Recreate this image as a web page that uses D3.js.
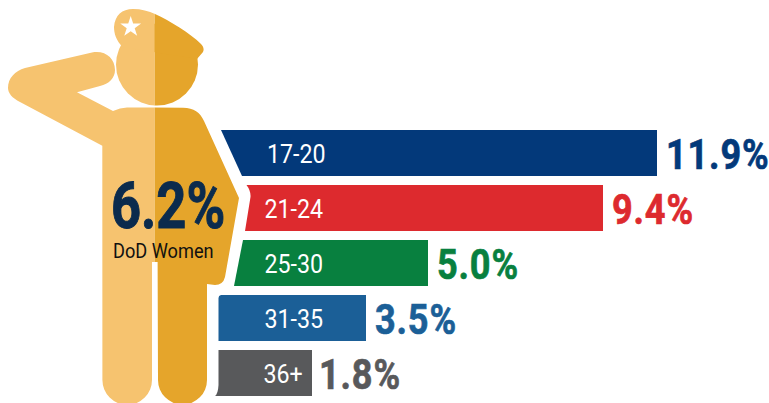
<!DOCTYPE html>
<html>
<head>
<meta charset="utf-8">
<script src="https://cdnjs.cloudflare.com/ajax/libs/d3/7.8.5/d3.min.js"></script>
<style>
  html, body { margin: 0; padding: 0; background: #fff; }
  svg { display: block; }
  text { font-family: Roboto, sans-serif; }
</style>
</head>
<body>
<div id="chart"></div>
<script>
var width = 769, height = 403;

var ageGroups = ["17-20", "21-24", "25-30", "31-35", "36+"];
var percents = [11.9, 9.4, 5.0, 3.5, 1.8];
var barColors = ["#03397a", "#dd2a2e", "#08803f", "#1b5f97", "#58595b"];
var overallLabel = "6.2%";
var overallName = "DoD Women";

var lightGold = "#f6c36f", darkGold = "#e5a52b";

var svg = d3.select("#chart").append("svg")
  .attr("width", width)
  .attr("height", height);

// the picture's bars are not to scale, so the scale goes through each bar end
var x = d3.scaleLinear()
  .domain([1.8, 3.5, 5.0, 9.4, 11.9])
  .range([312, 366, 428, 603, 657]);

var y = d3.scaleBand()
  .domain(ageGroups)
  .range([130, 396])
  .paddingInner(0.1636);

// left ends follow the outline of the figure
var leftEdge = {
  "17-20": function(t, b) { return "M221," + t + "L242," + b; },
  "21-24": function(t, b) { return "M246.5," + t + "Q251,191 250.5,197L245," + b; },
  "25-30": function(t, b) { return "M243," + t + "L234," + b; },
  "31-35": function(t, b) { return "M221," + t + "Q218.5,295.5 218.5,298L218.5," + b; },
  "36+": function(t, b) { return "M218.5," + t + "L218.5,385Q218,394 215," + b; }
};

function barPath(d, i) {
  var t = y(d), b = t + y.bandwidth(), r = x(percents[i]);
  return leftEdge[d](t, b) + "L" + r + "," + b + "L" + r + "," + t + "Z";
}

// figure
var defs = svg.append("defs");
defs.append("clipPath").attr("id", "left-half").append("rect")
  .attr("x", 0).attr("y", 0).attr("width", 154.7).attr("height", height);
defs.append("clipPath").attr("id", "right-half").append("rect")
  .attr("x", 154.7).attr("y", 0).attr("width", width).attr("height", height);

var bodyPath = "M25,68L92,52.5C105,50 115,58 115,70C115,78 109,84 100,86L77,92.3L113,111"
  + "Q120,107.5 127,107.5L183,107.7C194,108 200,112 204,121L239,198L225,277Q223,285 215,285"
  + "L207,284L207,380A24.5,24.5 0 0 1 158,380L157.6,262L152,262L152,380A24.8,24.8 0 0 1 102.4,380"
  + "L102.3,145.7L20,102C12,98 8,93 8,88C8,78 15,71 25,68Z";
var capPath = "M123,47C116,41 114,33 114,27C115,15 122,9 133,9C141,9 149,11 155,14"
  + "C170,21 190,33 201,44C204,47 204,50 203,52L197,59Z";

[["left-half", lightGold], ["right-half", darkGold]].forEach(function(side) {
  var half = svg.append("g")
    .attr("clip-path", "url(#" + side[0] + ")")
    .attr("fill", side[1]);
  half.append("path").attr("d", bodyPath);
  half.append("circle").attr("cx", 157).attr("cy", 64.6).attr("r", 41);
  half.append("path").attr("d", capPath);
});

svg.append("path")
  .attr("d", d3.symbol().type(d3.symbolStar).size(135))
  .attr("transform", "translate(130.7,27)")
  .attr("fill", "#fff");

// bars
svg.selectAll(".bar")
  .data(ageGroups)
  .enter().append("path")
  .attr("class", "bar")
  .attr("d", barPath)
  .attr("fill", function(d, i) { return barColors[i]; });

// narrow text, Roboto Condensed is not available
function narrowText(cx, cy, squeeze) {
  return "translate(" + cx + "," + cy + ") scale(" + squeeze + ",1)";
}

var labelX = [267, 264.5, 264.5, 264.5, 263.5];
svg.selectAll(".age")
  .data(ageGroups)
  .enter().append("text")
  .attr("class", "age")
  .attr("transform", function(d, i) {
    return narrowText(labelX[i], y(d) + 33, 0.93);
  })
  .attr("font-size", 25)
  .attr("fill", "#fff")
  .text(function(d) { return d; });

svg.selectAll(".value")
  .data(percents)
  .enter().append("text")
  .attr("class", "value")
  .attr("transform", function(d, i) {
    return narrowText(x(d) + (i == 4 ? 7 : 9), y(ageGroups[i]) + 39, 0.84);
  })
  .attr("font-size", 43)
  .attr("font-weight", 700)
  .attr("letter-spacing", 1)
  .attr("stroke", function(d, i) { return barColors[i]; })
  .attr("stroke-width", 0.7)
  .attr("fill", function(d, i) { return barColors[i]; })
  .text(function(d) { return d.toFixed(1) + "%"; });

svg.append("text")
  .attr("transform", narrowText(111, 228, 0.82))
  .attr("font-size", 64)
  .attr("font-weight", 700)
  .attr("stroke", "#0b2b4d")
  .attr("stroke-width", 1)
  .attr("fill", "#0b2b4d")
  .text(overallLabel);

svg.append("text")
  .attr("transform", narrowText(113, 258, 0.91))
  .attr("font-size", 20)
  .attr("fill", "#111")
  .text(overallName);
</script>
</body>
</html>
